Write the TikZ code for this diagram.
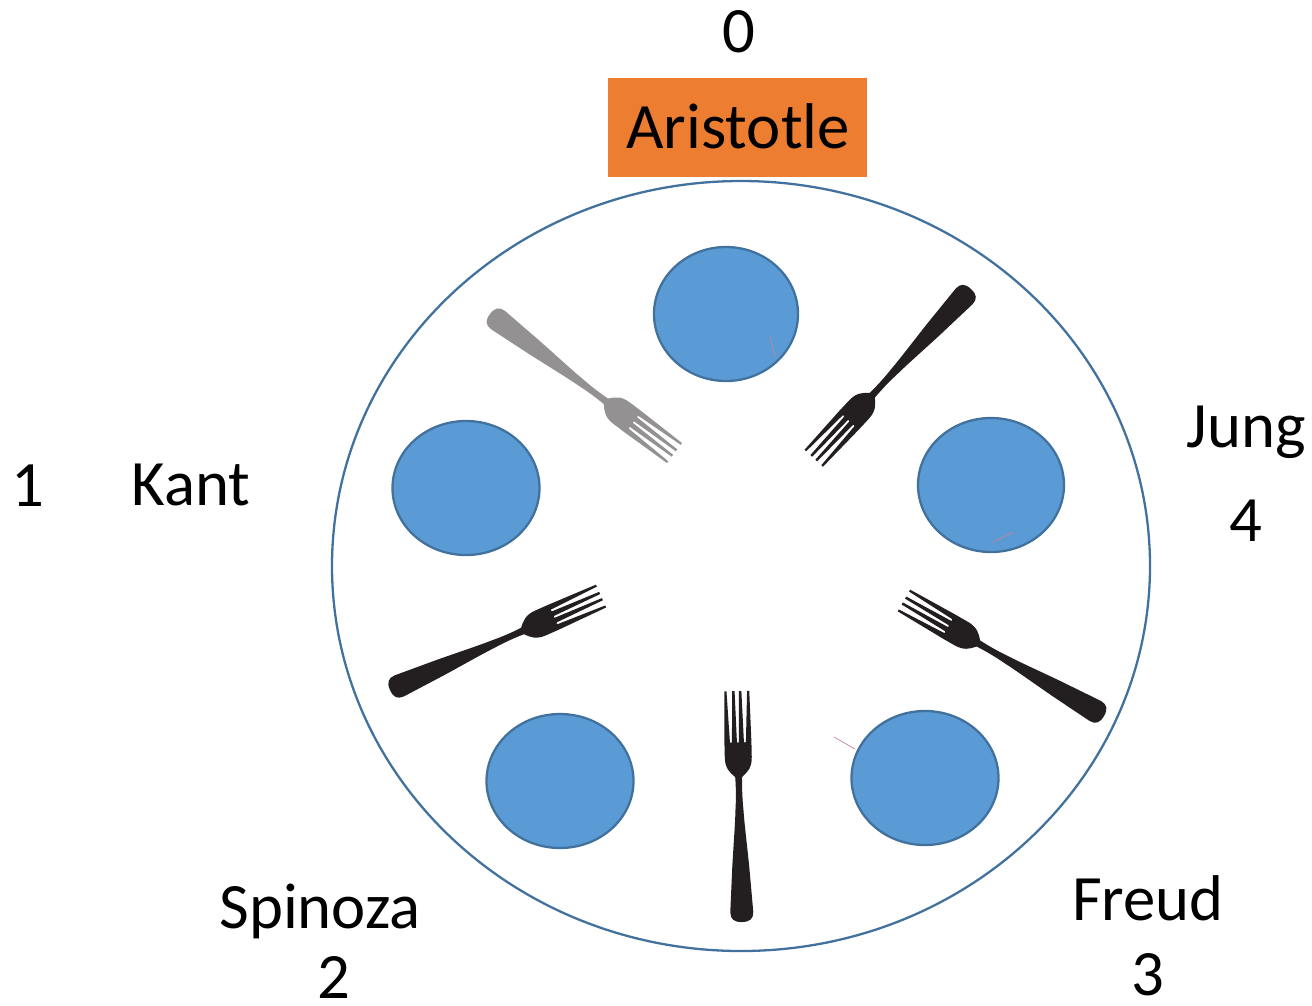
\documentclass[tikz,border=0pt]{standalone}
\usepackage{fontspec}
\setmainfont{Carlito}
\usepackage{xcolor}
\usetikzlibrary{calc,positioning}
\definecolor{platefill}{HTML}{5B9BD5}
\definecolor{platestroke}{HTML}{41719C}
\definecolor{seatfill}{HTML}{ED7D31}
\definecolor{forkdark}{HTML}{231F20}
\definecolor{forkgrey}{HTML}{939192}
\definecolor{straypink}{HTML}{B5657F}
\tikzset{
  platedisc/.style={draw=platestroke, fill=platefill, line width=0.65pt},
  namelabel/.style={font=\fontsize{18.4}{22}\selectfont, text=black, inner sep=0pt, anchor=base},
  straymark/.style={draw=straypink!80, line width=0.2pt},
  % fork drawn from the handle end (0,0) along +x, tines ending at x=231
  forkshape/.pic={
    \fill (0,0) .. controls (0,-8) and (3,-11.5) .. (10,-11.5)
      -- (55,-8.5) .. controls (80,-6.5) and (100,-4.5) .. (112,-4)
      .. controls (125,-3) and (135,-3) .. (145,-3.5)
      .. controls (150,-9) and (154,-13.5) .. (165,-13.5)
      -- (179,-13.5) -- (231,-12.5) -- (231,-10.3)
      -- (180,-8) .. controls (179,-7.5) and (179,-6.5) .. (180,-6)
      -- (231,-4.6) -- (231,-2.2)
      -- (180,-1) .. controls (179,-0.5) and (179,0.5) .. (180,1)
      -- (231,2.2) -- (231,4.6)
      -- (180,6) .. controls (179,6.5) and (179,7.5) .. (180,8)
      -- (231,10.3) -- (231,12.5)
      -- (179,13.5) -- (165,13.5)
      .. controls (154,13.5) and (150,9) .. (145,3.5)
      .. controls (135,3) and (125,3) .. (112,4)
      .. controls (100,4.5) and (80,6.5) .. (55,8.5)
      -- (10,11.5) .. controls (3,11.5) and (0,8) .. (0,0) -- cycle;
  }
}
\begin{document}
\begin{tikzpicture}[x=0.01cm,y=-0.01cm]
\useasboundingbox (0,0) rectangle (1312,1005);
% Round table, seat plate at the top
\draw[platedisc, fill=none] (741,566) ellipse [x radius=409, y radius=385];
\fill[seatfill] (608,78) rectangle (867,177);
% Plates
\draw[platedisc] (726,314) ellipse [x radius=72, y radius=67];
\draw[platedisc] (466,488) ellipse [x radius=73.5, y radius=67];
\draw[platedisc] (991,485) ellipse [x radius=73, y radius=67];
\draw[platedisc] (925,778) ellipse [x radius=73.5, y radius=67];
\draw[platedisc] (560,781) ellipse [x radius=73.5, y radius=67];
% Stray marks on the plates
\draw[straymark] (770,336) -- (775,357);
\draw[straymark] (993,542) -- (1014,532);
\draw[straymark] (834,737) -- (855,749);
% Forks, one between each pair of plates: handle end, then direction
\pic[forkgrey, rotate=-37] at (490,314) {forkshape};
\pic[forkdark, rotate=-132.9] at (971,289) {forkshape};
\pic[forkdark, rotate=24] at (390,690) {forkshape};
\pic[forkdark, rotate=150] at (1104,716) {forkshape};
\pic[forkdark, rotate=91.3] at (742,922) {forkshape};
% Names and seat numbers
\node[namelabel] (num0) at (739,52) {0};
\node[namelabel] (aristotle) at (738,148) {Aristotle};
\node[namelabel] (num1) at (28,506) {1};
\node[namelabel] (kant) at (191,505) {Kant};
\node[namelabel] (jung) at (1246,447) {Jung};
\node[namelabel] (num4) at (1246,541) {4};
\node[namelabel] (spinoza) at (320,928) {Spinoza};
\node[namelabel] (num2) at (334,998) {2};
\node[namelabel] (freud) at (1148,920) {Freud};
\node[namelabel] (num3) at (1148,995) {3};
\end{tikzpicture}
\end{document}
